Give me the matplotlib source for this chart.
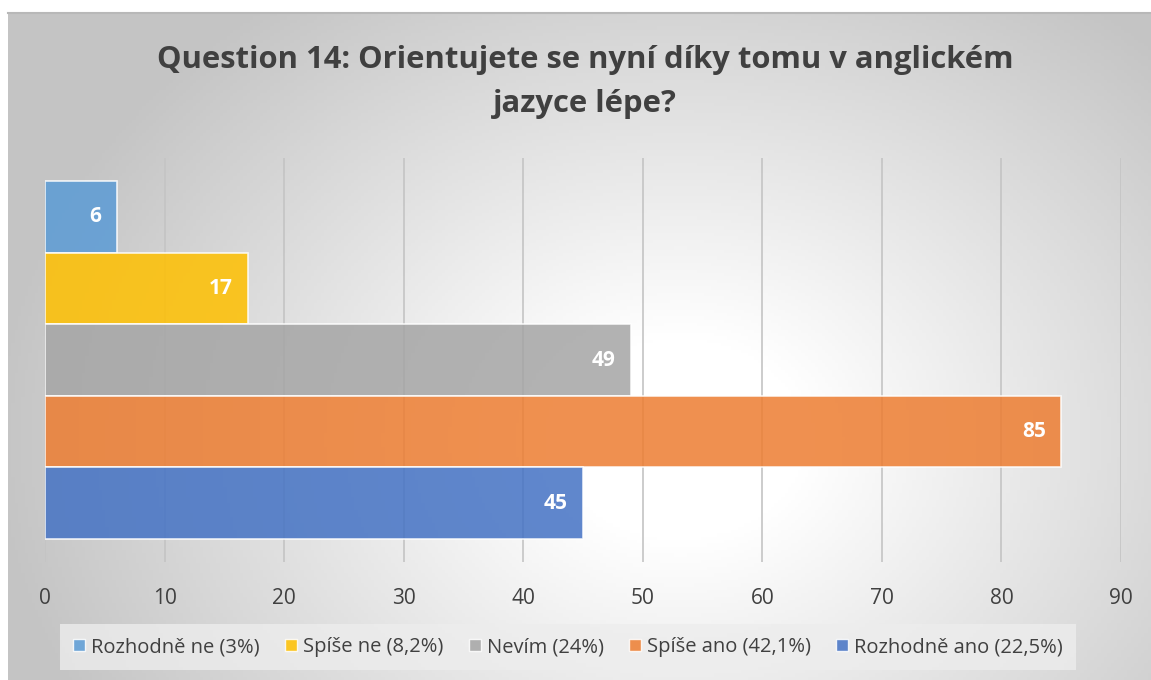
import numpy as np
import matplotlib
matplotlib.use("Agg")
import matplotlib.pyplot as plt
from matplotlib.patches import Patch

title = "Question 14: Orientujete se nyní díky tomu v anglickém\njazyce lépe?"
series = ["Rozhodně ne (3%)", "Spíše ne (8,2%)", "Nevím (24%)", "Spíše ano (42,1%)", "Rozhodně ano (22,5%)"]
values = [6, 17, 49, 85, 45]
colors = ["#5B9BD5", "#FFC000", "#A5A5A5", "#ED7D31", "#4472C4"]
xticks = [0, 10, 20, 30, 40, 50, 60, 70, 80, 90]

plt.rcParams['font.family'] = ['Open Sans', 'DejaVu Sans']

W, H = 1151, 680
fig = plt.figure(figsize=(W / 100, H / 100), dpi=100)
fig.patch.set_facecolor("white")

# background gradient (chart area)
bg = fig.add_axes([8 / W, 0, 1 - 8 / W, 1 - 13 / H])
bg.set_axis_off()
ny, nx = 200, 340
yy, xx = np.mgrid[0:ny, 0:nx]
px = 8 + xx / (nx - 1) * (W - 8)
py = 13 + yy / (ny - 1) * (H - 13)
cx, cy = 680, 440
d = np.sqrt(((px - cx) / 700) ** 2 + ((py - cy) / 560) ** 2)
t = np.clip((d - 0.18) / 0.8, 0, 1)
g = 1 - 0.23 * t
img = np.dstack([g, g, g])
bg.imshow(img, aspect="auto", extent=[0, 1, 0, 1], origin="upper")
bg.plot([0, 1], [1, 1], color="#b8b8b8", lw=1.5, transform=bg.transAxes, clip_on=False)

ax = fig.add_axes([45 / W, 1 - 562 / H, (1121 - 45) / W, (562 - 158) / H])
ax.patch.set_alpha(0)

n = len(values)
bar_h = 1.0
pos = [n - 1 - i for i in range(n)]
for i, (v, c, lab) in enumerate(zip(values, colors, series)):
    ax.barh(pos[i], v, height=bar_h, color=c, alpha=0.85, edgecolor=(1, 1, 1, 0.55),
            linewidth=1.2, label=lab, zorder=3)
    ax.text(v - 1.3, pos[i], str(v), ha="right", va="center", color="white",
            fontsize=15, fontweight="bold", zorder=4)

ax.set_xlim(0, 90)
ax.set_ylim(-0.5 - 0.32, n - 0.5 + 0.32)
ax.set_xticks(xticks)
ax.set_yticks([])
ax.grid(axis="x", color="#c4c4c4", lw=1.2, zorder=0)
for s in ax.spines.values():
    s.set_visible(False)
ax.tick_params(axis="x", length=0, pad=19, labelsize=15, labelcolor="#404040")

fig.text(585 / W, 1 - 82 / H, title, ha="center", va="center", fontsize=22.3,
         fontweight="bold", color="#404040", linespacing=1.62)

handles = [Patch(facecolor=c, alpha=0.85, edgecolor=(1, 1, 1, 0.6), label=s)
           for c, s in zip(colors, series)]
leg = fig.legend(handles=handles, loc="center", bbox_to_anchor=(568 / W, 1 - 647 / H),
                 ncol=5, frameon=True, fontsize=14.5, handlelength=0.6, handleheight=0.6,
                 handletextpad=0.3, columnspacing=1.25, borderpad=0.65)
leg.get_frame().set_facecolor((0.93, 0.93, 0.93, 0.85))
leg.get_frame().set_edgecolor("none")
leg.get_frame().set_boxstyle("square", pad=0)
for tx in leg.get_texts():
    tx.set_color("#404040")

fig.savefig("out.png", dpi=100)
